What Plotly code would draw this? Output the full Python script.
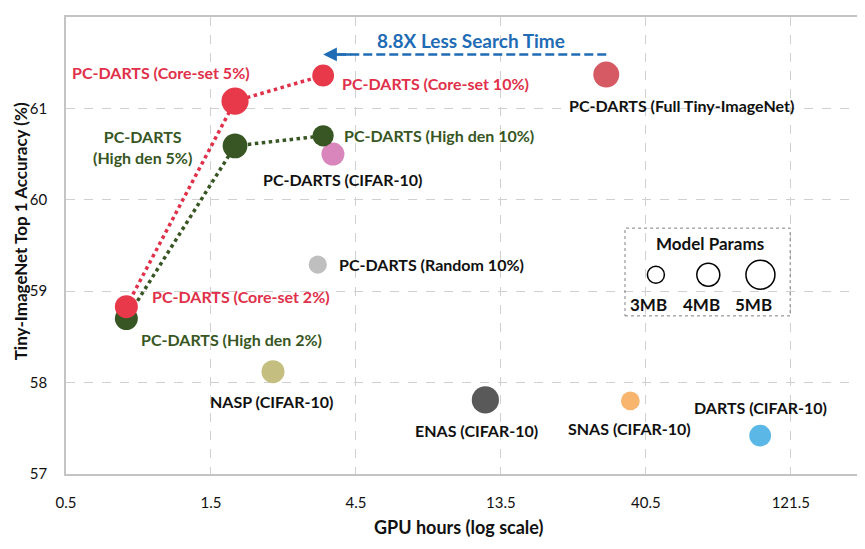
import numpy as np
import plotly.graph_objects as go

# ---------------- data ----------------
names = ["PC-DARTS (CIFAR-10)", "PC-DARTS (Random 10%)", "PC-DARTS (Full Tiny-ImageNet)",
         "NASP (CIFAR-10)", "ENAS (CIFAR-10)", "SNAS (CIFAR-10)", "DARTS (CIFAR-10)"]
gpu_hours = [3.78, 3.37, 30.0, 2.40, 12.0, 36.0, 96.3]
accuracy = [60.50, 59.29, 61.37, 58.12, 57.81, 57.80, 57.42]
params_mb = [4.0, 3.2, 4.5, 4.0, 4.7, 3.3, 3.8]

coreset_names = ["PC-DARTS (Core-set 2%)", "PC-DARTS (Core-set 5%)", "PC-DARTS (Core-set 10%)"]
coreset_hours = [0.79, 1.80, 3.51]
coreset_acc = [58.83, 61.08, 61.36]
coreset_mb = [4.0, 4.7, 3.8]

highden_names = ["PC-DARTS (High den 2%)", "PC-DARTS<br>(High den 5%)", "PC-DARTS (High den 10%)"]
highden_hours = [0.79, 1.80, 3.51]
highden_acc = [58.70, 60.59, 60.70]
highden_mb = [4.0, 4.3, 3.7]

legend_mb = [3, 4, 5]
legend_labels = ["3MB", "4MB", "5MB"]
legend_hours = [43.7, 65.0, 96.5]
legend_circle_acc = 59.18
legend_label_acc = 58.86
legend_title_acc = 59.52

speedup_text = "8.8X Less Search Time"
arrow_from_hours = 30.0
arrow_to_hours = 3.51
arrow_acc = 61.59

x_ticks = [0.5, 1.5, 4.5, 13.5, 40.5, 121.5]
y_ticks = [57, 58, 59, 60, 61, 62]

# ---------------- style ----------------
FONT = "Lato"
RED = "#E8394A"
RED_TXT = "#E0304A"
GREEN = "#375623"
BLUE = "#1F6CB5"
colors = ["#D986BC", "#BFBFBF", "#D65A64", "#C4BE80", "#595959", "#F8B56E", "#5BB8E6"]


def diam(mb):
    return [6 * m - 1 for m in mb]


# label offsets (px) relative to each point
off_main = [(10, -25), (114, 0), (75, -31), (-1, -30), (-9, -31), (-1, -28), (0, 28)]
off_core = [(115, 10), (-74, 29), (112, -8)]
off_high = [(105, -21), (-93, -1), (116, 0)]

fig = go.Figure()

# dotted connecting lines
fig.add_trace(go.Scatter(x=coreset_hours, y=coreset_acc, mode="lines",
                         line=dict(color=RED_TXT, width=3.5, dash="dot"), hoverinfo="skip"))
fig.add_trace(go.Scatter(x=highden_hours, y=highden_acc, mode="lines",
                         line=dict(color=GREEN, width=3.5, dash="dot"), hoverinfo="skip"))

# other methods
fig.add_trace(go.Scatter(x=gpu_hours, y=accuracy, mode="markers",
                         marker=dict(size=diam(params_mb), color=colors, opacity=1,
                                     line=dict(width=0)), hoverinfo="skip"))
# high density series (drawn under core-set)
fig.add_trace(go.Scatter(x=highden_hours, y=highden_acc, mode="markers",
                         marker=dict(size=diam(highden_mb), color=GREEN, opacity=1,
                                     line=dict(width=0)),
                         hoverinfo="skip"))
fig.add_trace(go.Scatter(x=coreset_hours, y=coreset_acc, mode="markers",
                         marker=dict(size=diam(coreset_mb), color=RED, opacity=1,
                                     line=dict(width=0)),
                         hoverinfo="skip"))

# dashed arrow line
fig.add_trace(go.Scatter(x=[arrow_from_hours, arrow_to_hours * 1.06], y=[arrow_acc, arrow_acc],
                         mode="lines", line=dict(color=BLUE, width=2.5, dash="9px,4px"),
                         hoverinfo="skip"))

# legend circles
fig.add_trace(go.Scatter(x=legend_hours, y=[legend_circle_acc] * 3, mode="markers",
                         marker=dict(size=diam(legend_mb), color="white", opacity=1,
                                     line=dict(color="black", width=1.5)),
                         hoverinfo="skip"))

ann = []


def lab(x, y, text, color, dx, dy, size=16):
    ann.append(dict(x=np.log10(x), y=y, xref="x", yref="y", text=text, showarrow=False,
                    xshift=dx, yshift=dy, xanchor="center", yanchor="middle",
                    font=dict(family=FONT, size=size, color=color)))


for n, x, y, (dx, dy) in zip(names, gpu_hours, accuracy, off_main):
    lab(x, y, "<b>%s</b>" % n, "#111111", dx, dy)
for n, x, y, (dx, dy) in zip(coreset_names, coreset_hours, coreset_acc, off_core):
    lab(x, y, "<b>%s</b>" % n, RED_TXT, dx, dy)
for n, x, y, (dx, dy) in zip(highden_names, highden_hours, highden_acc, off_high):
    lab(x, y, "<b>%s</b>" % n, GREEN, dx, dy)

# legend labels
for t, x in zip(legend_labels, legend_hours):
    lab(x, legend_label_acc, "<b>%s</b>" % t, "#111111", -7, 0, 17)
lab(legend_hours[1], legend_title_acc, "<b>Model Params</b>", "#111111", 2, 0, 17)

# arrow head
ann.append(dict(x=np.log10(arrow_to_hours), y=arrow_acc, ax=np.log10(arrow_to_hours * 1.25),
                ay=arrow_acc, xref="x", yref="y", axref="x", ayref="y", text="",
                showarrow=True, arrowhead=2, arrowsize=1.1, arrowwidth=2.5, arrowcolor=BLUE))
# arrow text
ann.append(dict(x=np.log10(np.sqrt(arrow_from_hours * arrow_to_hours)) + 0.02, y=arrow_acc,
                xref="x", yref="y", text="<b>%s</b>" % speedup_text, showarrow=False,
                yshift=14, font=dict(family=FONT, size=19, color=BLUE)))

# axis titles
ann.append(dict(x=0.497, y=-0.116, xref="paper", yref="paper", text="<b>GPU hours (log scale)</b>",
                showarrow=False, xanchor="center", yanchor="middle",
                font=dict(family=FONT, size=18, color="#111111")))
ann.append(dict(x=-0.0575, y=0.53, xref="paper", yref="paper",
                text="<b>Tiny-ImageNet Top 1 Accuracy (%)</b>", textangle=-90,
                showarrow=False, xanchor="center", yanchor="middle", borderpad=0,
                font=dict(family=FONT, size=17, color="#111111")))

shapes = [dict(type="rect", xref="paper", yref="paper", x0=0.7067, x1=0.9155, y0=0.346, y1=0.538,
               line=dict(color="#7F7F7F", width=1, dash="dot"), fillcolor="rgba(0,0,0,0)")]

# page body has an 8px margin, so the figure is sized to end at the window edge
fig.update_layout(
    width=857, height=541,
    margin=dict(l=58, r=8, t=9, b=75),
    paper_bgcolor="white", plot_bgcolor="white",
    showlegend=False,
    annotations=ann, shapes=shapes,
    font=dict(family=FONT, size=15, color="#111111"),
    xaxis=dict(type="log", range=[np.log10(0.5), np.log10(200.6)],
               tickvals=x_ticks, ticktext=[str(t) for t in x_ticks],
               showgrid=True, gridcolor="#D0D0D0", griddash="dash", gridwidth=1,
               showline=True, mirror=True, linecolor="#C4C4C4", linewidth=1.5,
               ticks="outside", ticklen=14, tickcolor="rgba(0,0,0,0)",
               zeroline=False, automargin=False,
               tickfont=dict(family=FONT, size=15, color="#111111")),
    yaxis=dict(range=[57, 62], tickvals=y_ticks,
               showgrid=True, gridcolor="#D0D0D0", griddash="dash", gridwidth=1,
               showline=True, mirror=True, linecolor="#C4C4C4", linewidth=1.5,
               ticks="outside", ticklen=14, tickcolor="rgba(0,0,0,0)",
               zeroline=False, automargin=False,
               tickfont=dict(family=FONT, size=15, color="#111111")),
)

fig.write_html("out.html")
